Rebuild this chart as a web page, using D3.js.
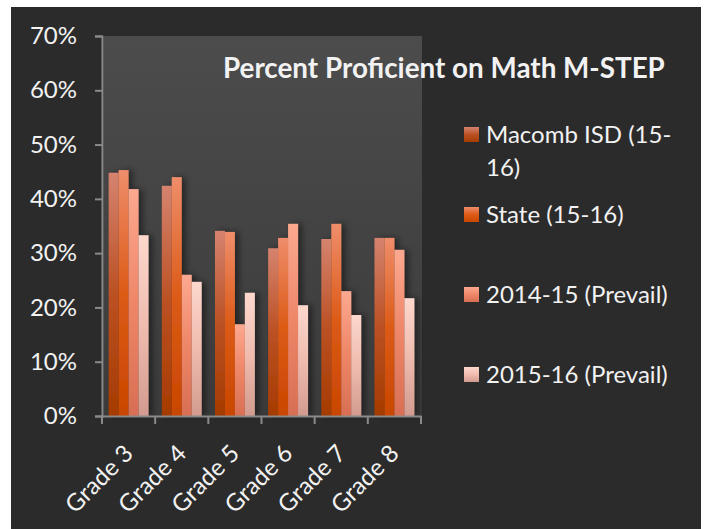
<!DOCTYPE html>
<html>
<head>
<meta charset="utf-8">
<script src="https://cdn.jsdelivr.net/npm/d3@7"></script>
<style>
  html, body { margin: 0; padding: 0; background: #ffffff; }
  svg { display: block; }
  text { font-family: Lato, "Open Sans", sans-serif; fill: #f2f2f2; }
</style>
</head>
<body>
<svg id="chart" width="704" height="529"></svg>
<script>
const categories = ["Grade 3", "Grade 4", "Grade 5", "Grade 6", "Grade 7", "Grade 8"];
const seriesNames = ["Macomb ISD (15-16)", "State (15-16)", "2014-15 (Prevail)", "2015-16 (Prevail)"];
const macombISD = [44.8, 42.4, 34.1, 30.9, 32.6, 32.8];
const state1516 = [45.3, 44.0, 33.9, 32.8, 35.4, 32.8];
const prevail1415 = [41.8, 26.0, 16.9, 35.4, 23.0, 30.6];
const prevail1516 = [33.3, 24.7, 22.7, 20.4, 18.6, 21.7];
const yTicks = [0, 10, 20, 30, 40, 50, 60, 70];
const titleText = "Percent Proficient on Math M-STEP";
const legendLines = [["Macomb ISD (15-", "16)"], ["State (15-16)"], ["2014-15 (Prevail)"], ["2015-16 (Prevail)"]];

const seriesValues = [macombISD, state1516, prevail1415, prevail1516];
const gradStops = [
  ["#d5836f", "#bb5124", "#a53b00"],
  ["#ef8d6b", "#dc5b17", "#c94600"],
  ["#fca990", "#ee8668", "#d86f54"],
  ["#fdd7cd", "#efbcaf", "#d39b8f"]
];

const svg = d3.select("#chart");
const defs = svg.append("defs");

gradStops.forEach((s, i) => {
  const g = defs.append("linearGradient").attr("id", "g" + i)
    .attr("x1", 0).attr("y1", 0).attr("x2", 0).attr("y2", 1);
  g.append("stop").attr("offset", "0%").attr("stop-color", s[0]);
  g.append("stop").attr("offset", "50%").attr("stop-color", s[1]);
  g.append("stop").attr("offset", "100%").attr("stop-color", s[2]);
});
const pg = defs.append("linearGradient").attr("id", "plotbg")
  .attr("x1", 0).attr("y1", 0).attr("x2", 0).attr("y2", 1);
pg.append("stop").attr("offset", "0%").attr("stop-color", "#4c4c4c");
pg.append("stop").attr("offset", "100%").attr("stop-color", "#3b3b3b");

const f = defs.append("filter").attr("id", "shadow")
  .attr("x", "-20%").attr("y", "-5%").attr("width", "160%").attr("height", "110%");
f.append("feDropShadow").attr("dx", 4).attr("dy", 0).attr("stdDeviation", 3)
  .attr("flood-color", "#000").attr("flood-opacity", 0.45);

// background
svg.append("rect").attr("x", 11).attr("y", 7).attr("width", 690).attr("height", 522).attr("fill", "#2b2b2b");

const plot = { left: 102, right: 421, top: 36, bottom: 416 };
svg.append("rect").attr("x", plot.left + 2).attr("y", plot.top)
  .attr("width", plot.right - plot.left - 1).attr("height", plot.bottom - plot.top)
  .attr("fill", "url(#plotbg)");

const x0 = d3.scaleBand().domain(categories).range([plot.left, plot.right]).padding(0);
const x1 = d3.scaleBand().domain(d3.range(seriesNames.length))
  .range([x0.bandwidth() * 0.125, x0.bandwidth() * 0.875]).padding(0);
const y = d3.scaleLinear().domain([0, 70]).range([plot.bottom, plot.top]);

// bars
const groups = svg.append("g").selectAll("g").data(categories).join("g")
  .attr("transform", d => `translate(${x0(d)},0)`)
  .attr("filter", "url(#shadow)");
groups.selectAll("rect")
  .data((c, ci) => seriesValues.map((vals, si) => ({ si, v: vals[ci] })))
  .join("rect")
  .attr("x", d => x1(d.si))
  .attr("width", x1.bandwidth())
  .attr("y", d => y(d.v))
  .attr("height", d => y(0) - y(d.v))
  .attr("fill", d => `url(#g${d.si})`);

// y axis
const yAxis = d3.axisLeft(y).tickValues(yTicks).tickFormat(d => d + "%").tickSize(7).tickPadding(18);
const ya = svg.append("g").attr("transform", `translate(${plot.left},0)`).call(yAxis);
ya.select(".domain").attr("stroke", "#8a8a8a").attr("stroke-width", 2);
ya.selectAll(".tick line").attr("stroke", "#8a8a8a").attr("stroke-width", 2);
ya.selectAll(".tick text").attr("fill", "#f2f2f2").style("font-size", "24px")
  .style("font-family", "Lato, sans-serif");

// x axis
const xAxis = d3.axisBottom(x0).tickSize(0).tickFormat(d => d);
const xa = svg.append("g").attr("transform", `translate(0,${plot.bottom})`).call(xAxis);
xa.select(".domain").attr("stroke", "#8a8a8a").attr("stroke-width", 2);
xa.selectAll(".tick text")
  .attr("fill", "#f2f2f2").style("font-size", "24px").style("font-family", "Lato, sans-serif")
  .attr("text-anchor", "end")
  .attr("dy", 0).attr("y", 0)
  .attr("transform", "translate(6,39) rotate(-45)");
// boundary ticks
const bounds = categories.map(c => x0(c)).concat([plot.right]);
xa.selectAll(".btick").data(bounds).join("line").attr("class", "btick")
  .attr("x1", d => d).attr("x2", d => d).attr("y1", 0).attr("y2", 8)
  .attr("stroke", "#8a8a8a").attr("stroke-width", 2);

// title
svg.append("text").attr("x", 223).attr("y", 78)
  .style("font-size", "27.8px").style("font-weight", "bold")
  .text(titleText);

// legend
const legendY = [134.5, 214.5, 294.5, 374.5];
const lg = svg.append("g");
seriesNames.forEach((name, i) => {
  lg.append("rect").attr("x", 464).attr("y", legendY[i] - 7.5).attr("width", 15).attr("height", 15)
    .attr("fill", `url(#g${i})`);
  const t = lg.append("text").attr("x", 486).attr("y", legendY[i] + 8)
    .style("font-size", "24px");
  legendLines[i].forEach((ln, k) => {
    t.append("tspan").attr("x", 486).attr("dy", k === 0 ? 0 : 33).text(ln);
  });
});
</script>
</body>
</html>
